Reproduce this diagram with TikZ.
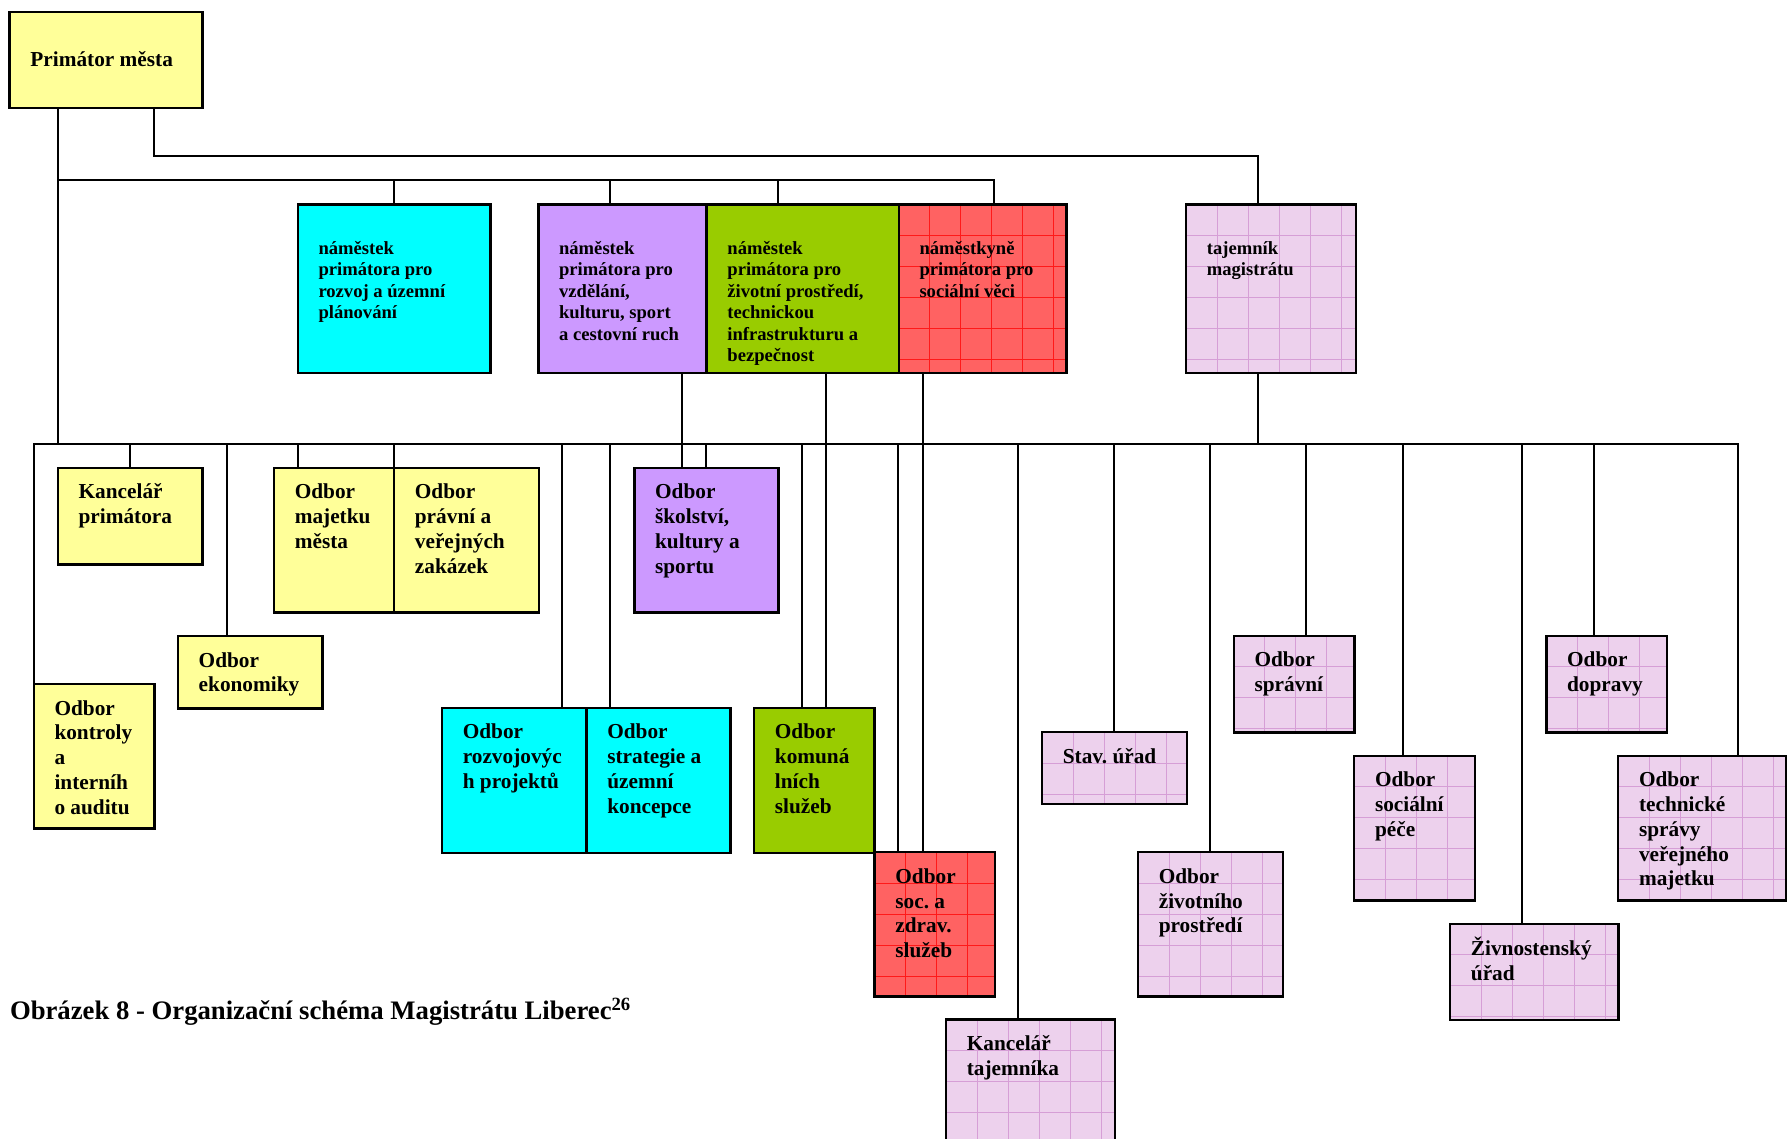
\documentclass[tikz,border=0pt]{standalone}
\usepackage{fontspec}
\setmainfont{Liberation Serif}
\definecolor{yelcolor}{RGB}{255,255,153}
\definecolor{cyancolor}{RGB}{0,255,255}
\definecolor{lilaccolor}{RGB}{204,153,255}
\definecolor{greencolor}{RGB}{153,204,0}
\definecolor{redcolor}{RGB}{255,98,98}
\definecolor{redlinecolor}{RGB}{255,25,25}
\definecolor{pinkcolor}{RGB}{237,209,237}
\definecolor{pinklinecolor}{RGB}{214,158,214}
\usepackage{tikz}
\newcommand{\odbfont}{\fontsize{21.3}{24.7}\selectfont\bfseries}
\newcommand{\depfont}{\fontsize{18.6}{21.4}\selectfont\bfseries}
\newcommand{\captfont}{\fontsize{26.7}{30}\selectfont\bfseries}
\newcommand{\tp}{\rule{0pt}{18pt}}

\begin{document}
\begin{tikzpicture}[x=1pt, y=-1pt,
    orgbox/.style={draw=black, line width=2.4pt, anchor=north west, inner sep=0pt, outer sep=0pt},
    wh/.style 2 args={minimum width=#1pt, minimum height=#2pt},
    conn/.style={line width=2pt},
    txt/.style={anchor=north west, align=left, inner sep=0pt, xshift=20.6pt, yshift=#1, font=\odbfont},
    odbtxt/.style={txt=-13pt},
    deptxt/.style={txt=-32pt, font=\depfont},
    redgrid/.style={fill=redcolor, path picture={
      \foreach \k in {1,...,7}
        \draw[redlinecolor, line width=0.9pt] ([xshift=31*\k]path picture bounding box.north west) -- ++(0,240)
          ([yshift=-31*\k]path picture bounding box.north west) -- ++(240,0);}},
    pinkgrid/.style={fill=pinkcolor, path picture={
      \foreach \k in {1,...,7}
        \draw[pinklinecolor, line width=0.8pt] ([xshift=31*\k]path picture bounding box.north west) -- ++(0,240)
          ([yshift=-31*\k]path picture bounding box.north west) -- ++(240,0);}}
  ]
  \useasboundingbox (0,0) rectangle (1787,1138);
  \clip (0,0) rectangle (1787,1138);
  \coordinate (busTaj) at (0,155.7);
  \coordinate (busDep) at (0,180);
  \coordinate (busOdb) at (0,444);

  % primator, deputies, secretary
  \node[orgbox, fill=yelcolor, wh={192.8}{96.3}, label={[txt=-37pt]north west:{\tp Primátor města}}] (prim) at (9.6,11.7) {};
  \node[orgbox, fill=cyancolor, wh={192.9}{168.4}, label={[deptxt]north west:{\tp náměstek\\primátora pro\\rozvoj a územní\\plánování}}] (dep1) at (297.7,204.3) {};
  \node[orgbox, fill=lilaccolor, wh={168.3}{168.4}, label={[deptxt]north west:{\tp náměstek\\primátora pro\\vzdělání,\\kulturu, sport\\a cestovní ruch}}] (dep2) at (538.3,204.3) {};
  \node[orgbox, fill=greencolor, wh={192.1}{168.4}, label={[deptxt]north west:{\tp náměstek\\primátora pro\\životní prostředí,\\technickou\\infrastrukturu a\\bezpečnost}}] (dep3) at (706.6,204.3) {};
  \node[orgbox, redgrid, wh={167.6}{168.4}, label={[deptxt]north west:{\tp náměstkyně\\primátora pro\\sociální věci}}] (dep4) at (898.7,204.3) {};
  \node[orgbox, pinkgrid, wh={169.7}{168.4}, label={[deptxt]north west:{\tp tajemník\\magistrátu}}] (taj) at (1186,204.3) {};

  % departments
  \node[orgbox, fill=yelcolor, wh={144.6}{96.6}, label={[odbtxt]north west:{\tp Kancelář\\primátora}}] (kancprim) at (57.8,467.7) {};
  \node[orgbox, fill=yelcolor, wh={120.1}{144.6}, label={[odbtxt]north west:{\tp Odbor\\majetku\\města}}] (majetek) at (274,467.7) {};
  \node[orgbox, fill=yelcolor, wh={144.7}{144.6}, label={[odbtxt]north west:{\tp Odbor\\právní a\\veřejných\\zakázek}}] (pravni) at (394.1,467.7) {};
  \node[orgbox, fill=lilaccolor, wh={144.2}{144.6}, label={[odbtxt]north west:{\tp Odbor\\školství,\\kultury a\\sportu}}] (skol) at (634.3,467.7) {};
  \node[orgbox, fill=yelcolor, wh={144.7}{72.3}, label={[odbtxt]north west:{\tp Odbor\\ekonomiky}}] (ekon) at (177.9,636) {};
  \node[orgbox, fill=yelcolor, wh={120.9}{144.3}, label={[odbtxt]north west:{\tp Odbor\\kontroly\\a\\interníh\\o auditu}}] (kontroly) at (33.7,684) {};
  \node[orgbox, fill=cyancolor, wh={144.5}{145}, label={[odbtxt]north west:{\tp Odbor\\rozvojovýc\\h projektů}}] (rozvoj) at (442,707.7) {};
  \node[orgbox, fill=cyancolor, wh={143.8}{145}, label={[odbtxt]north west:{\tp Odbor\\strategie a\\územní\\koncepce}}] (strat) at (586.5,707.7) {};
  \node[orgbox, fill=greencolor, wh={120.5}{145}, label={[odbtxt]north west:{\tp Odbor\\komuná\\lních\\služeb}}] (komun) at (754.1,707.7) {};
  \node[orgbox, redgrid, wh={120.1}{144.2}, label={[odbtxt]north west:{\tp Odbor\\soc.\ a\\zdrav.\\služeb}}] (soc) at (874.6,852.2) {};
  \node[orgbox, pinkgrid, wh={168.7}{140}, label={[odbtxt]north west:{\tp Kancelář\\tajemníka}}] (kanctaj) at (946,1019.4) {};
  \node[orgbox, pinkgrid, wh={144.7}{72.1}, label={[odbtxt]north west:{\tp Stav.\ úřad}}] (stav) at (1042,732.1) {};
  \node[orgbox, pinkgrid, wh={144.7}{144.2}, label={[odbtxt]north west:{\tp Odbor\\životního\\prostředí}}] (zivprost) at (1138,852.2) {};
  \node[orgbox, pinkgrid, wh={120.9}{96.6}, label={[odbtxt]north west:{\tp Odbor\\správní}}] (sprav) at (1233.7,635.7) {};
  \node[orgbox, pinkgrid, wh={120.6}{144.6}, label={[odbtxt]north west:{\tp Odbor\\sociální\\péče}}] (socpece) at (1354.2,755.7) {};
  \node[orgbox, pinkgrid, wh={168.4}{96.3}, label={[odbtxt]north west:{\tp Živnostenský\\úřad}}] (zivn) at (1450.1,923.7) {};
  \node[orgbox, pinkgrid, wh={120.5}{96.6}, label={[odbtxt]north west:{\tp Odbor\\dopravy}}] (doprava) at (1546.3,635.7) {};
  \node[orgbox, pinkgrid, wh={167.7}{144.6}, label={[odbtxt]north west:{\tp Odbor\\technické\\správy\\veřejného\\majetku}}] (tech) at (1618.2,755.7) {};

  \node[anchor=base west, inner sep=0pt, font=\captfont] (caption) at (9.8,1019.5) {Obrázek 8 - Organizační schéma Magistrátu Liberec\textsuperscript{26}};

  % links from the primator
  \draw[conn] ([xshift=144.6]prim.south west) |- ([xshift=71.7]taj.north west |- busTaj) -- ([xshift=71.7]taj.north west);
  \draw[conn] ([xshift=48.6]prim.south west) -- ([xshift=48.6]prim.south west |- busOdb);
  \draw[conn] ([xshift=48.6]prim.south west |- busDep) -| ([xshift=94.9]dep4.north west);
  \foreach \n/\dx in {dep1/96.4, dep2/71.9, dep3/71.6}
    \draw[conn] ([xshift=\dx]\n.north west) -- ([xshift=\dx]\n.north west |- busDep);

  % deputies down to their departments
  \draw[conn] ([xshift=143.8]dep2.south west) -- ([xshift=143.8]dep2.south west |- skol.north);
  \draw[conn] ([xshift=119.8]dep3.south west) -- ([xshift=119.8]dep3.south west |- komun.north);
  \draw[conn] ([xshift=23.9]dep4.south west) -- ([xshift=23.9]dep4.south west |- soc.north);
  \draw[conn] ([xshift=71.7]taj.south west) -- ([xshift=71.7]taj.south west |- busOdb);

  % department bus
  \draw[conn] (kontroly.north west) |- ([xshift=120.1]tech.north west |- busOdb) -- ([xshift=120.1]tech.north west);
  \foreach \n/\dx in {kancprim/72.3, ekon/48.6, majetek/23.7, pravni/0, rozvoj/120, strat/23.7, skol/71.9, komun/48.2, soc/23.7, kanctaj/72.3, stav/72.3, zivprost/72.2, sprav/72.6, socpece/48.3, zivn/72.2, doprava/47.9}
    \draw[conn] ([xshift=\dx]\n.north west) -- ([xshift=\dx]\n.north west |- busOdb);
\end{tikzpicture}
\end{document}
